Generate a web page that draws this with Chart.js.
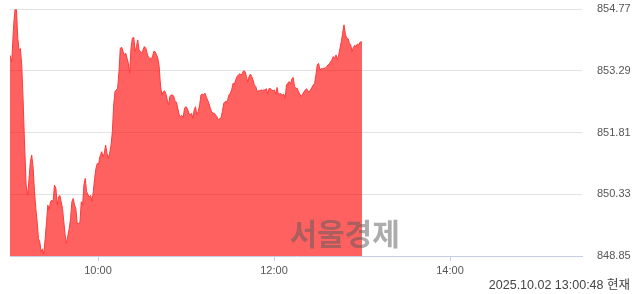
<!DOCTYPE html>
<html>
<head>
<meta charset="utf-8">
<script src="https://cdn.jsdelivr.net/npm/chart.js@4.4.1/dist/chart.umd.min.js"></script>
<style>
  html, body { margin: 0; padding: 0; background: #ffffff; }
  canvas { display: block; }
</style>
</head>
<body>
<canvas id="c" width="640" height="294"></canvas>
<script>
// minutes after 09:00
const minutes = [
  0,1.2,2.5,3.4,4.4,5.3,6.2,7.1,8.0,8.9,9.8,11.0,
  12.1,13.0,13.9,14.8,15.8,16.7,17.6,18.5,19.4,20.3,
  21.2,22.1,23.0,24.0,24.9,25.8,26.7,27.6,28.5,29.4,
  30.3,31.3,32.2,33.1,34.0,34.9,35.8,36.7,37.6,38.5,
  39.5,40.4,41.3,42.2,43.1,44.0,44.9,45.8,46.8,47.7,
  48.6,49.5,50.4,51.3,52.2,53.1,54.1,55.0,55.9,56.8,
  57.7,58.6,59.5,60.4,61.3,
  62.5,63.4,64.3,65.2,66.1,67.0,67.9,68.9,69.8,70.7,
  71.6,72.5,73.4,74.3,75.2,76.2,77.1,78.0,78.9,79.8,
  80.7,81.6,82.5,83.4,84.4,85.3,86.2,87.1,88.0,88.9,
  89.8,90.7,91.6,92.6,93.5,94.4,95.3,96.2,97.1,98.0,
  98.9,99.9,100.8,101.7,102.6,103.5,104.4,105.3,106.2,107.2,
  108.1,109.0,109.9,110.8,111.7,112.6,113.5,114.4,115.4,116.3,
  117.2,118.1,119.0,119.9,120.8,
  122.0,122.9,123.8,124.7,125.6,126.5,127.4,128.3,129.3,130.2,
  131.1,132.0,132.9,133.8,134.7,135.6,136.6,137.5,138.4,139.3,
  140.2,141.1,142.0,142.9,143.8,144.8,145.7,146.6,147.5,148.4,
  149.3,150.2,151.1,152.1,153.0,153.9,154.8,155.7,156.6,157.5,
  158.4,159.3,160.3,161.2,162.1,163.0,163.9,164.8,165.7,166.6,
  167.6,168.5,169.4,170.3,171.2,172.1,173.0,173.9,174.8,175.8,
  176.7,177.6,178.5,179.4,180.3,
  181.2,182.1,183.0,184.0,184.9,185.8,186.7,187.6,188.5,189.4,
  190.3,191.3,192.2,193.1,194.0,194.9,195.8,196.7,197.6,198.5,
  199.5,200.4,201.3,202.2,203.1,204.0,204.9,205.8,206.8,207.7,
  208.6,209.5,210.4,211.3,212.2,213.1,214.0,215.0,215.9,216.8,
  217.7,218.6,219.5,220.4,221.3,222.3,223.2,224.1,225.0,225.9,
  226.8,227.7,228.6,229.5,230.5,231.4,232.3,233.2,234.1,235.0,
  235.9,236.8,237.8,238.7,240
];
const values = [
  853.66,853.51,854.39,854.75,854.75,854.07,853.79,853.82,853.43,852.63,851.67,850.55,
  850.31,850.71,851.11,851.27,850.95,850.39,849.99,849.67,849.27,849.19,
  848.95,849.02,848.89,849.27,849.67,850.07,849.95,850.15,850.19,850.15,
  850.55,850.47,850.07,850.27,850.30,850.15,849.99,849.67,849.35,849.15,
  849.35,849.51,849.75,850.15,850.23,850.07,849.99,849.63,849.63,849.66,
  850.15,850.07,850.55,850.71,850.39,850.33,850.27,850.30,850.15,850.39,
  850.71,850.95,851.07,851.05,851.23,
  851.35,851.23,851.31,851.51,851.31,851.19,851.31,851.51,851.83,852.47,
  852.79,852.83,852.87,853.27,853.83,853.85,853.75,853.67,853.71,853.59,
  853.47,853.23,853.83,854.07,854.09,853.75,853.87,854.03,853.79,853.75,
  853.71,853.79,853.87,853.83,853.71,853.61,853.59,853.59,853.61,853.75,
  853.75,853.67,853.59,853.39,852.95,852.71,852.78,852.81,852.75,852.59,
  852.47,852.67,852.71,852.71,852.67,852.55,852.54,852.39,852.23,852.19,
  852.22,852.17,852.39,852.43,852.39,
  852.27,852.23,852.27,852.15,852.35,852.43,852.23,852.31,852.47,852.71,
  852.73,852.71,852.75,852.67,852.59,852.51,852.39,852.31,852.27,852.27,
  852.23,852.19,852.11,852.14,852.15,852.31,852.51,852.55,852.54,852.59,
  852.71,852.75,852.83,852.99,852.97,853.07,853.15,853.19,853.22,853.19,
  853.23,853.29,853.27,853.15,853.02,853.15,853.21,853.15,853.07,852.95,
  852.91,852.79,852.81,852.81,852.83,852.82,852.83,852.83,852.86,852.73,
  852.87,852.86,852.83,852.81,852.83,
  852.73,852.89,852.71,852.75,852.73,852.71,852.73,852.63,852.95,852.99,
  853.03,852.97,853.10,853.13,852.91,852.87,852.87,852.79,852.73,852.67,
  852.73,852.78,852.83,852.86,852.81,852.78,852.83,852.89,852.95,852.99,
  853.19,853.43,853.47,853.31,853.34,853.34,853.35,853.35,853.39,853.43,
  853.45,853.51,853.55,853.63,853.59,853.67,853.55,853.67,853.83,853.99,
  854.19,854.39,854.19,854.07,854.06,853.95,853.91,853.75,853.85,853.90,
  853.87,853.93,853.91,853.98,853.98
];
const yTicks = [848.85, 850.33, 851.81, 853.29, 854.77];
const xTicks = [60, 180, 300];
const xTickLabels = ['10:00', '12:00', '14:00'];
const sessionEnd = 390; // 15:30
const watermarkText = '서울경제';
const stampText = '2025.10.02 13:00:48 현재';

const points = minutes.map((m, i) => ({ x: m, y: values[i] }));

const overlay = {
  id: 'overlay',
  afterDatasetsDraw(chart) {
    const c = chart.ctx;
    const a = chart.chartArea;
    c.save();
    c.font = 'bold 30px "Noto Sans CJK KR", sans-serif';
    c.fillStyle = 'rgba(90,90,90,0.5)';
    c.textAlign = 'center';
    c.textBaseline = 'middle';
    c.fillText(watermarkText, a.left + (a.right - a.left) * 0.585, a.bottom - 22);
    c.restore();
  },
  afterDraw(chart) {
    const c = chart.ctx;
    c.save();
    c.font = '12.5px "Liberation Sans", "Noto Sans CJK KR", sans-serif';
    c.fillStyle = '#444';
    c.textAlign = 'right';
    c.textBaseline = 'alphabetic';
    c.fillText(stampText, 630, 289);
    c.restore();
  }
};

new Chart(document.getElementById('c'), {
  type: 'line',
  data: {
    datasets: [{
      data: points,
      borderColor: '#ff3a3a',
      borderWidth: 1,
      backgroundColor: 'rgba(255,0,0,0.62)',
      fill: 'start',
      pointRadius: 0,
      tension: 0
    }]
  },
  options: {
    responsive: false,
    animation: false,
    devicePixelRatio: 1,
    layout: { padding: { left: 10, top: 9, right: 0, bottom: 0 } },
    plugins: { legend: { display: false }, tooltip: { enabled: false } },
    scales: {
      x: {
        type: 'linear',
        min: 0,
        max: sessionEnd,
        afterBuildTicks: s => { s.ticks = xTicks.map(v => ({ value: v })); },
        afterFit: s => { s.height = 38; s.paddingLeft = 0; s.paddingRight = 0; },
        ticks: {
          callback: v => xTickLabels[xTicks.indexOf(v)],
          color: '#555',
          font: { size: 11, family: '"Liberation Sans", sans-serif' },
          padding: 3,
          maxRotation: 0,
          autoSkip: false
        },
        grid: { drawOnChartArea: false, drawTicks: true, tickLength: 5, color: '#c5cfe3' },
        border: { color: '#c5cfe3' }
      },
      y: {
        position: 'right',
        min: yTicks[0],
        max: yTicks[yTicks.length - 1],
        afterBuildTicks: s => { s.ticks = yTicks.map(v => ({ value: v })); },
        afterFit: s => { s.width = 58; s.paddingTop = 0; s.paddingBottom = 0; },
        ticks: {
          callback: v => Number(v).toFixed(2),
          color: '#555',
          font: { size: 11, family: '"Liberation Sans", sans-serif' },
          padding: 15
        },
        grid: {
          drawTicks: false,
          color: ctx => (ctx.index === 0 ? 'rgba(0,0,0,0)' : '#e2e2e2')
        },
        border: { display: false }
      }
    }
  },
  plugins: [overlay]
});
</script>
</body>
</html>
